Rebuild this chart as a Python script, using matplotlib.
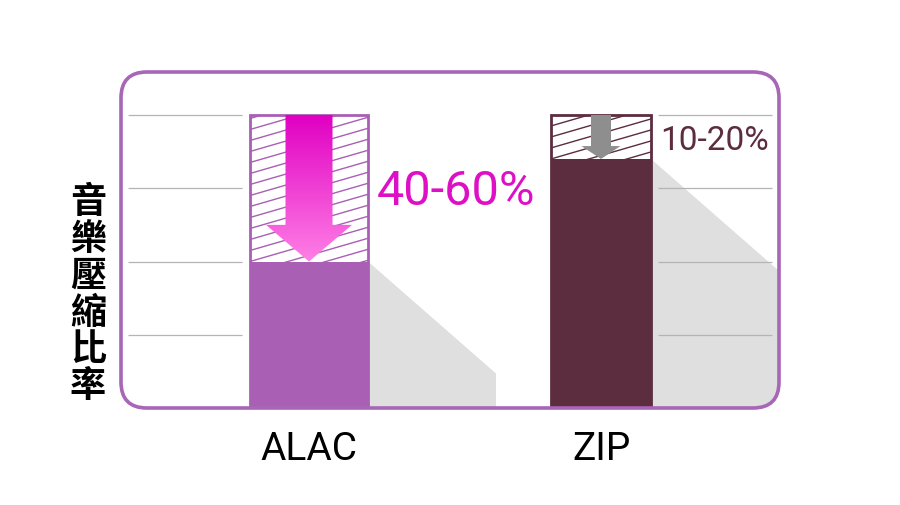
import numpy as np
import matplotlib
matplotlib.use("Agg")
from matplotlib import pyplot as plt
from matplotlib.patches import FancyBboxPatch, Rectangle, Polygon

# ==============================================================================
# DATA
# ==============================================================================
categories = ["ALAC", "ZIP"]
remaining_size = [50, 85]          # size left after compression [% of original]
saving_labels = ["40-60%", "10-20%"]
grid_values = [25, 50, 75, 100]
y_label = "音樂壓縮比率"

# ==============================================================================
# STYLE / LAYOUT
# ==============================================================================
bar_centers = [1.88, 4.80]
bar_widths = [1.18, 1.00]
bar_colors = ["#A95FB4", "#5C2C3F"]
label_colors = ["#DE10C6", "#5C2C3F"]
label_sizes = [35, 24]
arrow_shaft = [0.235, 0.10]
arrow_head = [0.43, 0.195]
arrow_head_len = [12.5, 4.4]
frame_color = "#A866B6"
shadow_color = "#DFDFDF"
grid_color = "#B4B4B4"
text_font = ["Roboto", "DejaVu Sans"]
px_x = 0.01                  # data x per pixel
px_y = 100 / 293.0           # data y per pixel

fig = plt.figure(figsize=(9, 5.06), dpi=100)

# Background axes in pixel units for the rounded frame.
bg = fig.add_axes([0, 0, 1, 1])
bg.set_xlim(0, 900)
bg.set_ylim(506, 0)
bg.axis("off")
frame = FancyBboxPatch((121, 73), 658, 336, boxstyle="round,pad=0,rounding_size=26",
                       facecolor="white", edgecolor="none", transform=bg.transData)
bg.add_patch(frame)

# Data axes.
ax = fig.add_axes([121 / 900, 1 - 409 / 506, 658 / 900, 336 / 506])
ax.patch.set_alpha(0)
xmax = 6.58
ymax = 336 * px_y
for s in ax.spines.values():
    s.set_visible(False)

# Shadows behind the bars.
for c, w, v in zip(bar_centers, bar_widths, remaining_size):
    right = c + w / 2
    dx = 1.28
    dy = dx / px_x * 0.875 * px_y
    shadow = Polygon([(right, v), (right + dx, v - dy), (right + dx, 0), (right, 0)],
                     closed=True, facecolor=shadow_color, edgecolor="none", zorder=1)
    ax.add_patch(shadow)
    shadow.set_clip_path(frame)

# Grid lines: only left of first bar and right of last bar.
left_end = bar_centers[0] - bar_widths[0] / 2 - 0.08
right_start = bar_centers[1] + bar_widths[1] / 2 + 0.07
ax.hlines(grid_values, 0.07, left_end, color=grid_color, lw=0.9, zorder=2)
ax.hlines(grid_values, right_start, xmax - 0.07, color=grid_color, lw=0.9, zorder=2)

# Bars.
ax.bar(bar_centers, remaining_size, width=bar_widths, color=bar_colors, zorder=3)

for i, (c, w, v) in enumerate(zip(bar_centers, bar_widths, remaining_size)):
    left = c - w / 2
    # hatched empty part
    clip = Rectangle((left, v), w, 100 - v, transform=ax.transData)
    slope = 0.29 * px_y / px_x
    spacing = 11 * px_y
    for k in range(-20, 40):
        y0 = v + k * spacing
        xs = np.array([left, left + w])
        ln, = ax.plot(xs, y0 + slope * (xs - left), color=bar_colors[i], lw=1.0, zorder=3)
        ln.set_clip_path(clip)
    # outline
    ax.add_patch(Rectangle((left, 0), w, 100, facecolor="none",
                           edgecolor=bar_colors[i], lw=2.0, zorder=4))

    # arrow
    sh, hd, hl = arrow_shaft[i], arrow_head[i], arrow_head_len[i]
    arrow = Polygon([(c - sh, 100), (c + sh, 100), (c + sh, v + hl), (c + hd, v + hl),
                     (c, v), (c - hd, v + hl), (c - sh, v + hl)],
                    closed=True, facecolor="#8E8E8E" if i == 1 else "none",
                    edgecolor="none", zorder=5)
    ax.add_patch(arrow)
    if i == 0:
        grad = np.linspace(0, 1, 256).reshape(-1, 1)
        cmap = matplotlib.colors.LinearSegmentedColormap.from_list("mag", ["#E000C2", "#FF80E6"])
        im = ax.imshow(grad, extent=(c - hd, c + hd, v, 100), origin="upper",
                       cmap=cmap, aspect="auto", zorder=5)
        im.set_clip_path(arrow)

    # saving label
    ax.text(left + w + 0.09, (v + 100) / 2 - 1, saving_labels[i], color=label_colors[i],
            fontsize=label_sizes[i], family=text_font,
            ha="left", va="center", zorder=6)

ax.set_xlim(0, xmax)
ax.set_ylim(0, ymax)
ax.set_yticks([])
ax.set_xticks(bar_centers, categories, family=text_font, fontsize=28)
ax.tick_params(axis="x", length=0, pad=16)

# Frame border on top.
border = FancyBboxPatch((121, 73), 658, 336, boxstyle="round,pad=0,rounding_size=26",
                        facecolor="none", edgecolor=frame_color, lw=2.6,
                        transform=bg.transData, zorder=10, clip_on=False)
ax.add_patch(border)

# Vertical stacked y label.
for j, ch in enumerate(y_label):
    bg.text(88, 203 + j * 36.7, ch, fontsize=26, family=["Noto Sans CJK TC", "DejaVu Sans"],
            weight="bold", ha="center", va="center", color="black")

fig.savefig("out.png", dpi=100)
